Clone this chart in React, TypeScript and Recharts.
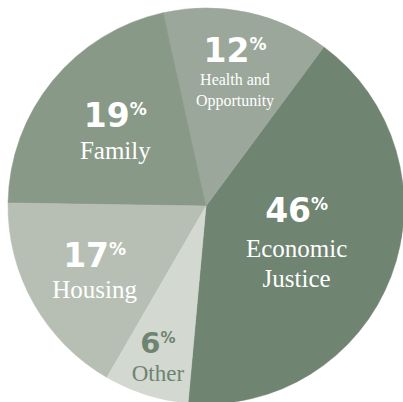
import { PieChart, Pie, Cell } from "recharts";

// slice sizes as drawn (the printed percents are kept separately as labels)
const categories = ["Economic Justice", "Health and Opportunity", "Family", "Housing", "Other"];
const shares = [41.3, 13.6, 21.3, 16.9, 6.9];
const percentLabels = ["46", "12", "19", "17", "6"];
const nameLines = [["Economic", "Justice"], ["Health and", "Opportunity"], ["Family"], ["Housing"], ["Other"]];

const FILLS = ["#6f8471", "#9ba79a", "#889987", "#b7bfb5", "#d3d8d0"];
const TEXT = ["#ffffff", "#ffffff", "#ffffff", "#ffffff", "#6e8370"];

// label placement per slice: radius from centre, baseline offsets, font sizes
const LAYOUT = [
  { r: 97, numDy: -18.5, lineDy: [16.5, 46.5], num: 33, name: 25 },
  { r: 139, numDy: -8, lineDy: [15, 36], num: 33, name: 16 },
  { r: 117, numDy: -5.4, lineDy: [26.6], num: 33, name: 25 },
  { r: 128, numDy: -2.5, lineDy: [28.5], num: 33, name: 25 },
  { r: 159, numDy: -4.5, lineDy: [23.5], num: 29, name: 23 },
];

const RAD = Math.PI / 180;
const SANS = "'DejaVu Sans', sans-serif";
const SERIF = "'Liberation Serif', 'DejaVu Serif', serif";

if (typeof document !== "undefined") document.body.style.margin = "0";

const data = categories.map((name, i) => ({ name, value: shares[i] }));

function renderLabel(props: any) {
  const { cx, cy, midAngle, index } = props;
  const l = LAYOUT[index];
  const x = cx + l.r * Math.cos(-midAngle * RAD);
  const y = cy + l.r * Math.sin(-midAngle * RAD);
  const color = TEXT[index];
  const pctSize = Math.round(l.num * 0.52);
  return (
    <g key={`lbl-${index}`}>
      <text
        x={x}
        y={y + l.numDy}
        textAnchor="middle"
        fill={color}
        fontFamily={SANS}
        fontWeight={700}
        fontSize={l.num}
      >
        {percentLabels[index]}
        <tspan fontSize={pctSize} dy={-(l.num * 0.73 - pctSize * 0.73)}>%</tspan>
      </text>
      {nameLines[index].map((line, j) => (
        <text
          key={j}
          x={x}
          y={y + l.lineDy[j]}
          textAnchor="middle"
          fill={color}
          fontFamily={SERIF}
          fontSize={l.name}
        >
          {line}
        </text>
      ))}
    </g>
  );
}

export default function App() {
  return (
    <div style={{ width: 403, height: 402, background: "#fff" }}>
      <PieChart width={403} height={402} margin={{ top: 0, right: 0, bottom: 0, left: 0 }}>
        <Pie
          data={data}
          dataKey="value"
          nameKey="name"
          cx={206}
          cy={206}
          innerRadius={0}
          outerRadius={198}
          startAngle={-95.2}
          endAngle={264.8}
          label={renderLabel}
          labelLine={false}
          isAnimationActive={false}
        >
          {data.map((_, i) => (
            <Cell key={i} fill={FILLS[i]} stroke={FILLS[i]} strokeWidth={0.5} />
          ))}
        </Pie>
      </PieChart>
    </div>
  );
}
